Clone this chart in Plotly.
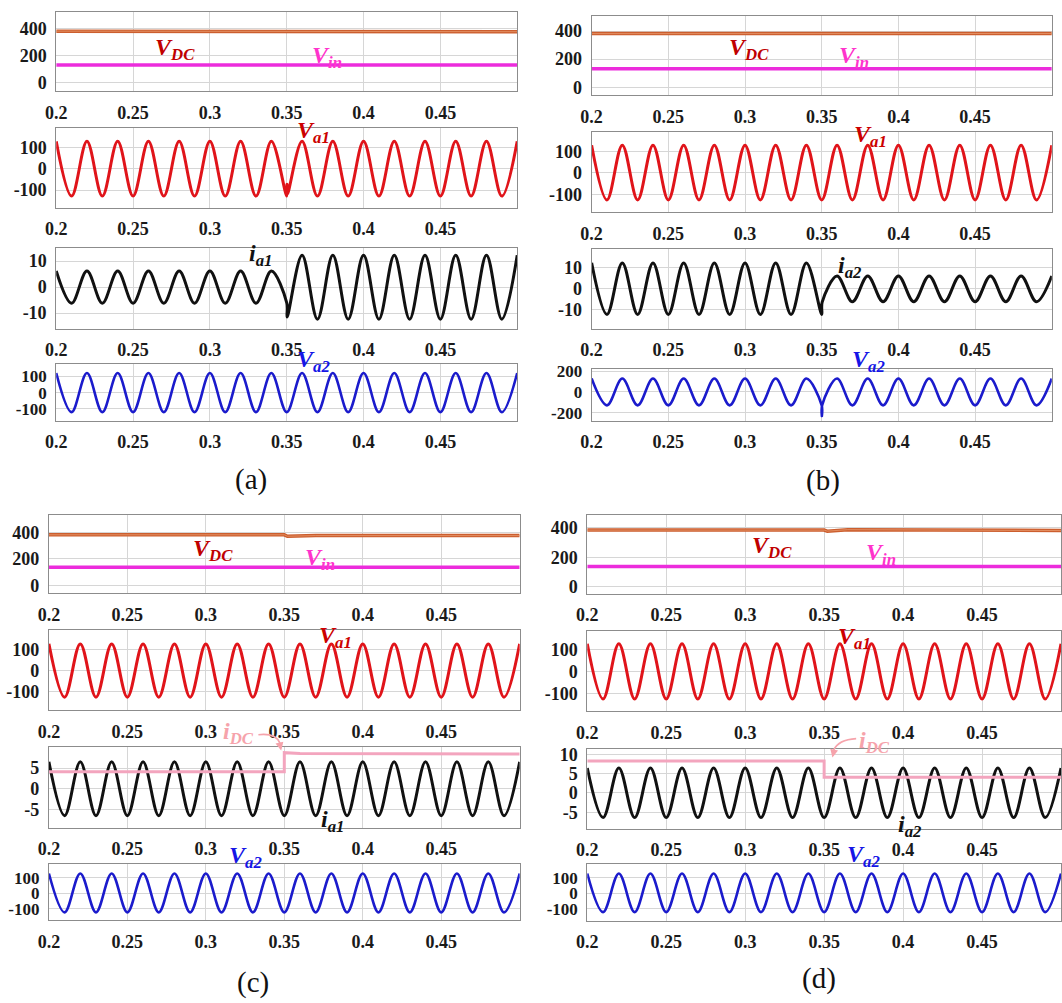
import plotly.graph_objects as go

# ---------------- data ----------------
# instants of waveform extrema (50 Hz, one every half period)
T_EXT = [0.20, 0.21, 0.22, 0.23, 0.24, 0.25, 0.26, 0.27, 0.28, 0.29, 0.30,
         0.31, 0.32, 0.33, 0.34, 0.35, 0.36, 0.37, 0.38, 0.39, 0.40,
         0.41, 0.42, 0.43, 0.44, 0.45, 0.46, 0.47, 0.48, 0.49, 0.50]

X_TICKS = [0.2, 0.25, 0.3, 0.35, 0.4, 0.45]
X_TICK_TEXT = ["0.2", "0.25", "0.3", "0.35", "0.4", "0.45"]

# panel (a)
VDC_A_T = [0.20, 0.35, 0.50]
VDC_A = [382, 381, 378]
VIN_A_T = [0.20, 0.50]
VIN_A = [131, 131]
VA1_A = [128, -128, 128, -128, 128, -128, 128, -128, 128, -128, 128, -128, 128, -128, 128,
         -128, 128, -128, 128, -128, 128, -128, 128, -128, 128, -128, 128, -128, 128, -128, 128]
VA1_A_GLITCH_T = [0.3502, 0.3505]
VA1_A_GLITCH = [-72, -118]
IA1_A = [6.2, -6.2, 6.2, -6.2, 6.2, -6.2, 6.2, -6.2, 6.2, -6.2, 6.2, -6.2, 6.2, -6.2, 6.2,
         -6.0, 12.3, -12.3, 12.3, -12.3, 12.3, -12.3, 12.3, -12.3, 12.3, -12.3, 12.3, -12.3, 12.3, -12.3, 12.3]
IA1_A_GLITCH_T = [0.3503]
IA1_A_GLITCH = [-11.5]
VA2_A = [122, -120, 122, -120, 122, -120, 122, -120, 122, -120, 122, -120, 122, -120, 122,
         -120, 122, -120, 122, -120, 122, -120, 122, -120, 122, -120, 122, -120, 122, -120, 122]

# panel (b)
VDC_B_T = [0.20, 0.50]
VDC_B = [382, 383]
VIN_B_T = [0.20, 0.50]
VIN_B = [132, 132]
VA1_B = [128, -126, 128, -126, 128, -126, 128, -126, 128, -126, 128, -126, 128, -126, 128,
         -126, 128, -126, 128, -126, 128, -126, 128, -126, 128, -126, 128, -126, 128, -126, 128]
IA2_B = [12.2, -12.2, 12.2, -12.2, 12.2, -12.2, 12.2, -12.2, 12.2, -12.2, 12.2, -12.2, 12.2, -12.2, 12.2,
         -12.2, 6.0, -6.2, 6.0, -6.2, 6.0, -6.2, 6.0, -6.2, 6.0, -6.2, 6.0, -6.2, 6.0, -6.2, 6.0]
IA2_B_GLITCH_T = [0.3503]
IA2_B_GLITCH = [-6.4]
VA2_B = [128, -128, 128, -128, 128, -128, 128, -128, 128, -128, 128, -128, 128, -128, 128,
         -128, 128, -128, 128, -128, 128, -128, 128, -128, 128, -128, 128, -128, 128, -128, 128]
VA2_B_GLITCH_T = [0.3501, 0.3503]
VA2_B_GLITCH = [-230, -126]

# panel (c)
VDC_C_T = [0.20, 0.35, 0.352, 0.37, 0.50]
VDC_C = [382, 382, 371, 376, 376]
VIN_C_T = [0.20, 0.50]
VIN_C = [136, 136]
VA1_C = [128, -126, 128, -126, 128, -126, 128, -126, 128, -126, 128, -126, 128, -126, 128,
         -126, 128, -126, 128, -126, 128, -126, 128, -126, 128, -126, 128, -126, 128, -126, 128]
IA1_C = [6.5, -6.4, 6.5, -6.4, 6.5, -6.4, 6.5, -6.4, 6.5, -6.4, 6.5, -6.4, 6.5, -6.4, 6.5,
         -6.4, 6.5, -6.4, 6.5, -6.4, 6.5, -6.4, 6.5, -6.4, 6.5, -6.4, 6.5, -6.4, 6.5, -6.4, 6.5]
IDC_C_T = [0.20, 0.35, 0.35, 0.36, 0.50]
IDC_C = [4.1, 4.1, 8.7, 8.5, 8.4]
VA2_C = [126, -122, 126, -122, 126, -122, 126, -122, 126, -122, 126, -122, 126, -122, 126,
         -122, 126, -122, 126, -122, 126, -122, 126, -122, 126, -122, 126, -122, 126, -122, 126]

# panel (d)
VDC_D_T = [0.20, 0.35, 0.352, 0.365, 0.50]
VDC_D = [384, 384, 377, 387, 381]
VIN_D_T = [0.20, 0.50]
VIN_D = [137, 137]
VA1_D = [128, -126, 128, -126, 128, -126, 128, -126, 128, -126, 128, -126, 128, -126, 128,
         -126, 128, -126, 128, -126, 128, -126, 128, -126, 128, -126, 128, -126, 128, -126, 128]
IA2_D = [6.5, -6.4, 6.5, -6.4, 6.5, -6.4, 6.5, -6.4, 6.5, -6.4, 6.5, -6.4, 6.5, -6.4, 6.5,
         -6.4, 6.5, -6.4, 6.5, -6.4, 6.5, -6.4, 6.5, -6.4, 6.5, -6.4, 6.5, -6.4, 6.5, -6.4, 6.5]
IDC_D_T = [0.20, 0.35, 0.35, 0.50]
IDC_D = [8.3, 8.3, 4.1, 4.1]
VA2_D = [126, -122, 126, -122, 126, -122, 126, -122, 126, -122, 126, -122, 126, -122, 126,
         -122, 126, -122, 126, -122, 126, -122, 126, -122, 126, -122, 126, -122, 126, -122, 126]

# ---------------- helpers ----------------
W, H = 1062, 1003
FONT = "Liberation Serif, Times New Roman, Times, serif"


def px(p):
    return p / W


def py(p):
    return 1 - p / H


def wave(ext, gt=(), gv=()):
    pts = list(zip(T_EXT, ext)) + list(zip(gt, gv))
    pts.sort(key=lambda p: p[0])
    return [p[0] for p in pts], [p[1] for p in pts]


# subplot geometry (pixels) per panel column and row
COLS = {"a": (45.7, 511.5), "b": (586.7, 1051.7), "c": (38.3, 514.0), "d": (582.3, 1061.0)}
ROWS = {
    "a": [(4.7, 85), (122.3, 202.7), (243.3, 325), (361, 417.7)],
    "b": [(9.3, 89), (126.7, 207.3), (244, 325), (366, 417.7)],
    "c": [(512.7, 592.3), (629.3, 710), (747.3, 829), (866, 922.3)],
    "d": [(512.7, 592.7), (630.7, 711), (749.3, 830), (866, 922.7)],
}
YR = {
    "a": [(-64, 527), (-182, 190), (-16, 15.1), (-172, 175)],
    "b": [(-56, 506), (-183, 187), (-19, 19), (-273, 216)],
    "c": [(-62, 535), (-186, 194), (-9.3, 10.1), (-171, 184)],
    "d": [(-47, 489), (-181, 185), (-9.3, 11.5), (-176, 185)],
}
YT = {
    "a": [[0, 200, 400], [-100, 0, 100], [-10, 0, 10], [-100, 0, 100]],
    "b": [[0, 200, 400], [-100, 0, 100], [-10, 0, 10], [-200, 0, 200]],
    "c": [[0, 200, 400], [-100, 0, 100], [-5, 0, 5], [-100, 0, 100]],
    "d": [[0, 200, 400], [-100, 0, 100], [-5, 0, 5, 10], [-100, 0, 100]],
}

fig = go.Figure()
layout = dict(width=W, height=H, margin=dict(l=0, r=0, t=0, b=0),
              paper_bgcolor="white", plot_bgcolor="white", showlegend=False,
              font=dict(family=FONT, size=18, color="#1a1a1a"))

axis_index = {}
n = 0
for panel in ["a", "b", "c", "d"]:
    for r in range(4):
        n += 1
        axis_index[(panel, r)] = n
        sfx = "" if n == 1 else str(n)
        l, rr = COLS[panel]
        top, bot = ROWS[panel][r]
        tickfont = dict(family=FONT, size=18, color="#1a1a1a", weight="bold")
        ytickfont = dict(family=FONT, size=17 if r == 3 else 18, color="#1a1a1a", weight="bold")
        layout["xaxis" + sfx] = dict(
            domain=[px(l), px(rr)], range=[0.2, 0.5], anchor="y" + sfx,
            tickvals=X_TICKS, ticktext=X_TICK_TEXT, tickfont=tickfont,
            showgrid=True, gridcolor="#d6d6d6", gridwidth=1, zeroline=False,
            showline=True, mirror=True, linecolor="#8c8c8c", linewidth=1,
            ticks="", ticklabelstandoff=5, fixedrange=True)
        yt = YT[panel][r]
        layout["yaxis" + sfx] = dict(
            domain=[py(bot), py(top)], range=list(YR[panel][r]), anchor="x" + sfx,
            tickvals=yt, ticktext=[str(v) for v in yt], tickfont=ytickfont,
            showgrid=True, gridcolor="#d6d6d6", gridwidth=1, zeroline=False,
            showline=True, mirror=True, linecolor="#8c8c8c", linewidth=1,
            ticks="", ticklabelstandoff=5, fixedrange=True)


def add(panel, r, x, y, color, width, shape="spline"):
    k = axis_index[(panel, r)]
    sfx = "" if k == 1 else str(k)
    fig.add_trace(go.Scatter(x=x, y=y, mode="lines", xaxis="x" + sfx, yaxis="y" + sfx,
                             line=dict(color=color, width=width, shape=shape, smoothing=1.0),
                             hoverinfo="skip"))


C_VDC, C_VDC_IN = "#CC5E2E", "#E99A6E"
C_VIN = "#EC2CDC"
C_VA1 = "#E0141A"
C_IA = "#111111"
C_VA2 = "#1B1BCC"
C_IDC = "#F3A5BE"

for panel, vdc_t, vdc, vin_t, vin in [("a", VDC_A_T, VDC_A, VIN_A_T, VIN_A),
                                       ("b", VDC_B_T, VDC_B, VIN_B_T, VIN_B),
                                       ("c", VDC_C_T, VDC_C, VIN_C_T, VIN_C),
                                       ("d", VDC_D_T, VDC_D, VIN_D_T, VIN_D)]:
    add(panel, 0, vdc_t, vdc, C_VDC, 3.5, "linear")
    add(panel, 0, vdc_t, vdc, C_VDC_IN, 0.8, "linear")
    add(panel, 0, vin_t, vin, C_VIN, 3.5, "linear")

# row 2: Va1
x, y = wave(VA1_A, VA1_A_GLITCH_T, VA1_A_GLITCH); add("a", 1, x, y, C_VA1, 3)
x, y = wave(VA1_B); add("b", 1, x, y, C_VA1, 3)
x, y = wave(VA1_C); add("c", 1, x, y, C_VA1, 3)
x, y = wave(VA1_D); add("d", 1, x, y, C_VA1, 3)

# row 3: currents
x, y = wave(IA1_A, IA1_A_GLITCH_T, IA1_A_GLITCH); add("a", 2, x, y, C_IA, 3)
x, y = wave(IA2_B, IA2_B_GLITCH_T, IA2_B_GLITCH); add("b", 2, x, y, C_IA, 3)
x, y = wave(IA1_C); add("c", 2, x, y, C_IA, 3)
add("c", 2, IDC_C_T, IDC_C, C_IDC, 3, "linear")
x, y = wave(IA2_D); add("d", 2, x, y, C_IA, 3)
add("d", 2, IDC_D_T, IDC_D, C_IDC, 3, "linear")

# row 4: Va2
x, y = wave(VA2_A); add("a", 3, x, y, C_VA2, 2.6)
x, y = wave(VA2_B, VA2_B_GLITCH_T, VA2_B_GLITCH); add("b", 3, x, y, C_VA2, 2.6)
x, y = wave(VA2_C); add("c", 3, x, y, C_VA2, 2.6)
x, y = wave(VA2_D); add("d", 3, x, y, C_VA2, 2.6)

# ---------------- annotations ----------------
anns = []


def lab(text, x, y, color, size=24):
    anns.append(dict(text="<b><i>" + text + "</i></b>", x=px(x), y=py(y), xref="paper", yref="paper",
                     showarrow=False, font=dict(family=FONT, size=size, color=color),
                     xanchor="center", yanchor="middle"))


C_T_VDC = "#C00000"
C_T_VIN = "#FF33CC"
C_T_VA1 = "#CC0000"
C_T_VA2 = "#1515E6"
C_T_IDC = "#F6A3AB"

# (a)
lab("V<sub>DC</sub>", 166, 42, C_T_VDC)
lab("V<sub>in</sub>", 319, 50, C_T_VIN)
lab("V<sub>a1</sub>", 306, 126, C_T_VA1)
lab("i<sub>a1</sub>", 252, 250, C_IA)
lab("V<sub>a2</sub>", 306, 358, C_T_VA2)
# (b)
lab("V<sub>DC</sub>", 746, 42, C_T_VDC)
lab("V<sub>in</sub>", 852, 50, C_T_VIN)
lab("V<sub>a1</sub>", 868, 130, C_T_VA1)
lab("i<sub>a2</sub>", 847, 263, C_IA)
lab("V<sub>a2</sub>", 866, 358, C_T_VA2)
# (c)
lab("V<sub>DC</sub>", 204, 548, C_T_VDC)
lab("V<sub>in</sub>", 312, 558, C_T_VIN)
lab("V<sub>a1</sub>", 328, 636, C_T_VA1)
lab("i<sub>DC</sub>", 230, 733, C_T_IDC)
lab("i<sub>a1</sub>", 325, 822, C_IA)
lab("V<sub>a2</sub>", 237, 859, C_T_VA2)
# (d)
lab("V<sub>DC</sub>", 769, 545, C_T_VDC)
lab("V<sub>in</sub>", 879, 553, C_T_VIN)
lab("V<sub>a1</sub>", 852, 637, C_T_VA1)
lab("i<sub>DC</sub>", 873, 742, C_T_IDC)
lab("i<sub>a2</sub>", 908, 827, C_IA)
lab("V<sub>a2</sub>", 861, 858, C_T_VA2)

for t, x, y in [("(a)", 243, 477), ("(b)", 820, 478), ("(c)", 245, 985), ("(d)", 816, 981)]:
    anns.append(dict(text=t, x=px(x), y=py(y), xref="paper", yref="paper", showarrow=False,
                     font=dict(family=FONT, size=29, color="#111111"), xanchor="center", yanchor="middle"))

# arrow heads for i_DC pointers
anns.append(dict(text="", x=px(273), y=py(751), xref="paper", yref="paper", showarrow=True,
                 arrowhead=2, arrowsize=1, arrowwidth=1.6, arrowcolor=C_T_IDC, ax=-2, ay=-9))
anns.append(dict(text="", x=px(830), y=py(758), xref="paper", yref="paper", showarrow=True,
                 arrowhead=2, arrowsize=1, arrowwidth=1.6, arrowcolor=C_T_IDC, ax=2, ay=-9))

shapes = [
    dict(type="path", xref="paper", yref="paper",
         path=f"M {px(250)} {py(735)} Q {px(268)} {py(733)} {px(272)} {py(744)}",
         line=dict(color=C_T_IDC, width=1.6)),
    dict(type="path", xref="paper", yref="paper",
         path=f"M {px(854)} {py(739)} Q {px(836)} {py(740)} {px(831)} {py(751)}",
         line=dict(color=C_T_IDC, width=1.6)),
]

layout["annotations"] = anns
layout["shapes"] = shapes
fig.update_layout(**layout)
fig.write_html("out.html", post_script="document.body.style.margin='0px';")
